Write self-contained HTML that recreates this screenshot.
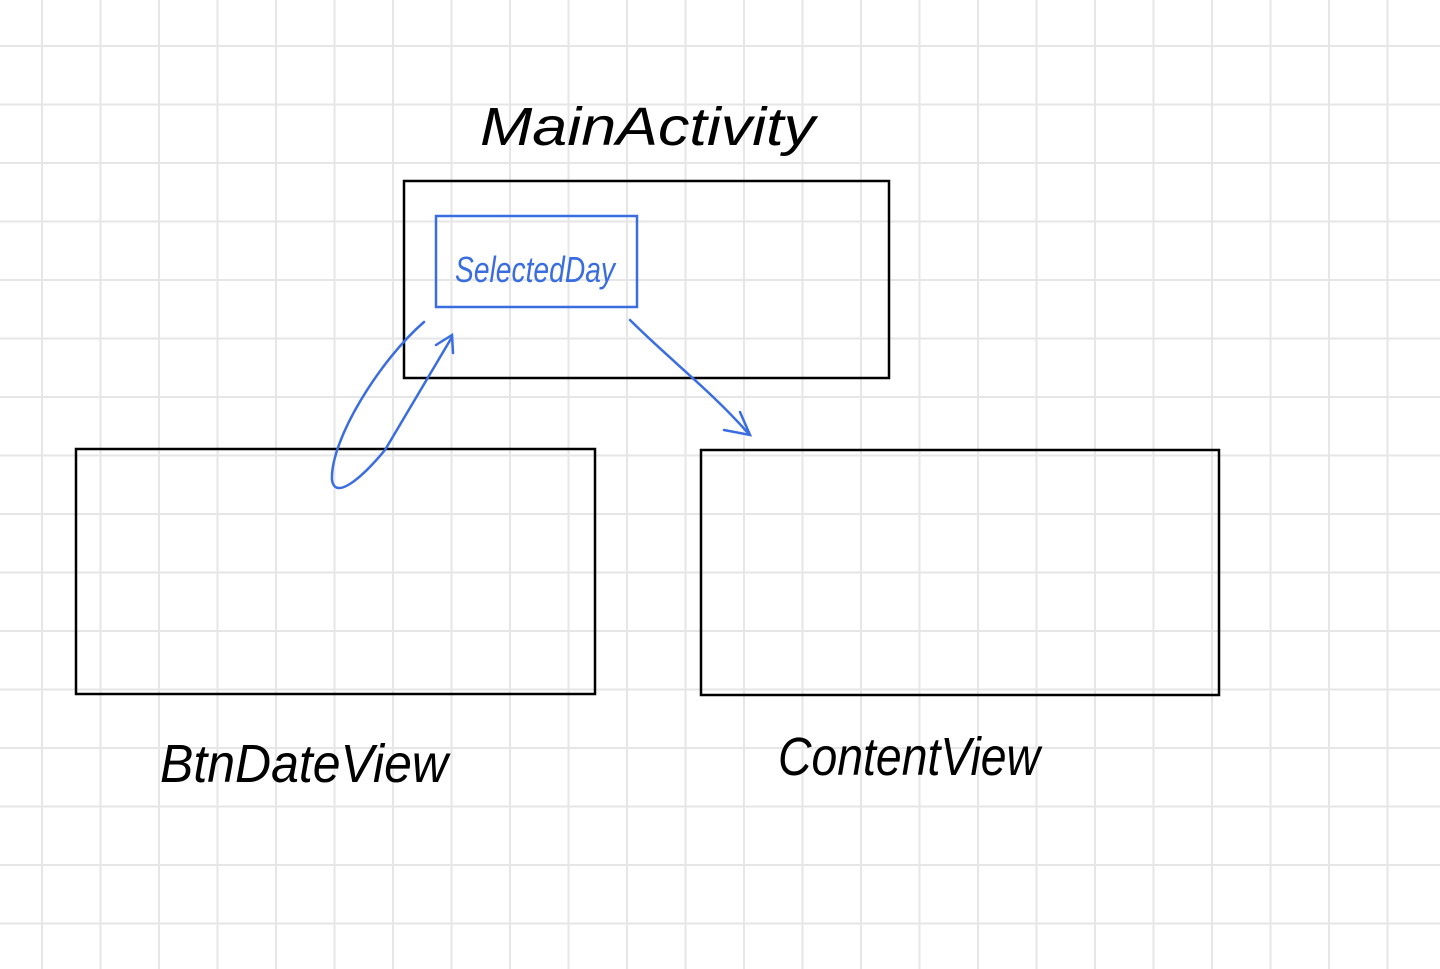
<!DOCTYPE html>
<html><head><meta charset="utf-8"><style>html,body{margin:0;padding:0;background:#fff}svg{display:block}</style></head>
<body>
<svg width="1440" height="969" xmlns="http://www.w3.org/2000/svg">
<defs>
<pattern id="g" x="41" y="45" width="58.5" height="58.5" patternUnits="userSpaceOnUse">
<path d="M1 0V58.5M0 1H58.5" stroke="#e6e6e6" stroke-width="2" fill="none"/>
</pattern>
</defs>
<rect width="1440" height="969" fill="#fff"/>
<rect width="1440" height="969" fill="url(#g)"/>
<g fill="none" stroke="#000" stroke-width="2.5">
<rect x="404" y="181" width="485" height="197"/>
<rect x="76" y="449" width="519" height="245"/>
<rect x="701" y="450" width="518" height="245"/>
</g>
<rect x="436" y="216" width="201" height="91" fill="none" stroke="#3a6de0" stroke-width="2.5"/>
<g fill="none" stroke="#3a6de0" stroke-width="2.5" stroke-linecap="round">
<path d="M424 322C380 360 330 440 332 480C335 500 360 480 385 450L452 337"/>
<path d="M436 345L452 335L453 353"/>
<path d="M630 320C670 360 710 390 748 433"/>
<path d="M724 430L750 435L740 412"/>
</g>
<g font-family="Liberation Sans, sans-serif" font-style="italic">
<text x="480" y="145" font-size="54" textLength="335" lengthAdjust="spacingAndGlyphs">MainActivity</text>
<text x="455" y="282" font-size="36" fill="#3a6de0" textLength="160" lengthAdjust="spacingAndGlyphs">SelectedDay</text>
<text x="160" y="782" font-size="54" textLength="288" lengthAdjust="spacingAndGlyphs">BtnDateView</text>
<text x="778" y="775" font-size="54" textLength="262" lengthAdjust="spacingAndGlyphs">ContentView</text>
</g>
</svg>
</body></html>
